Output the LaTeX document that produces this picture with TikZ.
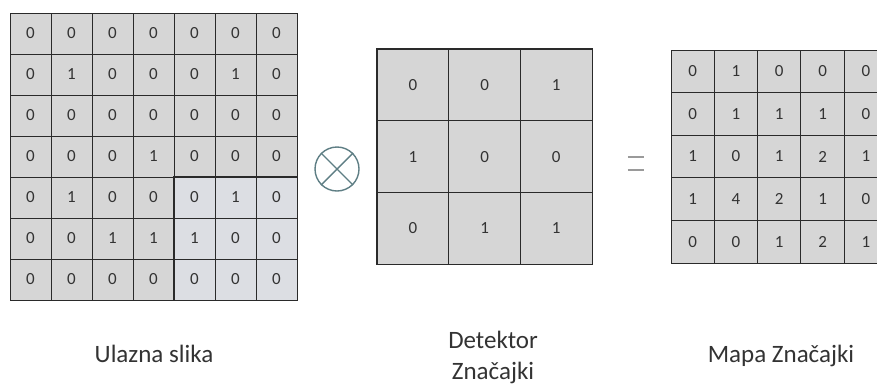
\documentclass[tikz,border=0pt]{standalone}
\usepackage{fontspec}
\setmainfont{Carlito}
\usepackage{tikz}

\definecolor{cellgrey}{HTML}{D6D6D6}
\definecolor{patchgrey}{HTML}{DCDEE3}
\definecolor{gridline}{HTML}{2A2A2A}
\definecolor{opgrey}{HTML}{5E7E84}
\definecolor{labelgrey}{HTML}{333333}
\definecolor{eqgrey}{HTML}{9A9A9A}

\tikzset{
	cell/.style={draw=gridline, fill=cellgrey, line width=1pt, minimum size=#1,
		inner sep=0pt, text=labelgrey, font=\fontsize{17}{19}\selectfont},
	caption/.style={text=labelgrey, font=\fontsize{25}{31}\selectfont, align=center}
}

\begin{document}
\begin{tikzpicture}[x=1pt, y=-1pt]
	% Fix the page to the reference size
	\useasboundingbox (0,0) rectangle (877,384);
	\clip (0,0) rectangle (877,384);

	% Define cell sizes
	\def\cIn{41}
	\def\cKer{71.7}
	\def\cMap{43.3}

	% Input image (7x7)
	\foreach \row/\vals in {0/{0,0,0,0,0,0,0}, 1/{0,1,0,0,0,1,0}, 2/{0,0,0,0,0,0,0},
		3/{0,0,0,1,0,0,0}, 4/{0,1,0,0,0,1,0}, 5/{0,0,1,1,1,0,0}, 6/{0,0,0,0,0,0,0}}
		\foreach \v [count=\col from 0] in \vals
			\node[cell=\cIn pt] (in-\row-\col) at (10+\cIn/2+\col*\cIn, 13+\cIn/2+\row*\cIn) {\v};

	% Highlighted window of the input
	\foreach \row/\vals in {4/{0,1,0}, 5/{1,0,0}, 6/{0,0,0}}
		\foreach \v [count=\col from 4] in \vals
			\node[cell=\cIn pt, fill=patchgrey] at (in-\row-\col) {\v};
	\draw[gridline, line width=1.8pt] (in-4-4.north west) rectangle (in-6-6.south east);

	% Convolution operator
	\node[circle, draw=opgrey, line width=1.4pt, minimum size=44pt, inner sep=0pt] (op) at (337,169) {};
	\draw[opgrey, line width=1.4pt] (op.north west) -- (op.south east);
	\draw[opgrey, line width=1.4pt] (op.north east) -- (op.south west);

	% Feature detector (3x3)
	\foreach \row/\vals in {0/{0,0,1}, 1/{1,0,0}, 2/{0,1,1}}
		\foreach \v [count=\col from 0] in \vals
			\node[cell=\cKer pt] (ker-\row-\col) at (377+\cKer/2+\col*\cKer, 49+\cKer/2+\row*\cKer) {\v};
	\draw[gridline, line width=1.6pt] (ker-0-0.north west) rectangle (ker-2-2.south east);

	% Equals sign
	\node[minimum width=16pt, minimum height=13pt, inner sep=0pt] (eq) at (636,163.5) {};
	\draw[eqgrey, line width=2pt] (eq.north west) -- (eq.north east);
	\draw[eqgrey, line width=2pt] (eq.south west) -- (eq.south east);

	% Feature map (5x5), cut at the right edge
	\foreach \row/\vals in {0/{0,1,0,0,0}, 1/{0,1,1,1,0}, 2/{1,0,1,2,1},
		3/{1,4,2,1,0}, 4/{0,0,1,2,1}}
		\foreach \v [count=\col from 0] in \vals
			\node[cell=\cMap pt, minimum height=42.6pt] (map-\row-\col) at (671+\cMap/2+\col*\cMap, 50+21.3+\row*42.6) {\v};

	% Captions
	\node[caption, anchor=base] (capIn) at (154,362) {Ulazna slika};
	\node[caption, anchor=base] (capKer) at (493,379) {Detektor\\Značajki};
	\node[caption, anchor=base] (capMap) at (781,362) {Mapa Značajki};
\end{tikzpicture}
\end{document}
